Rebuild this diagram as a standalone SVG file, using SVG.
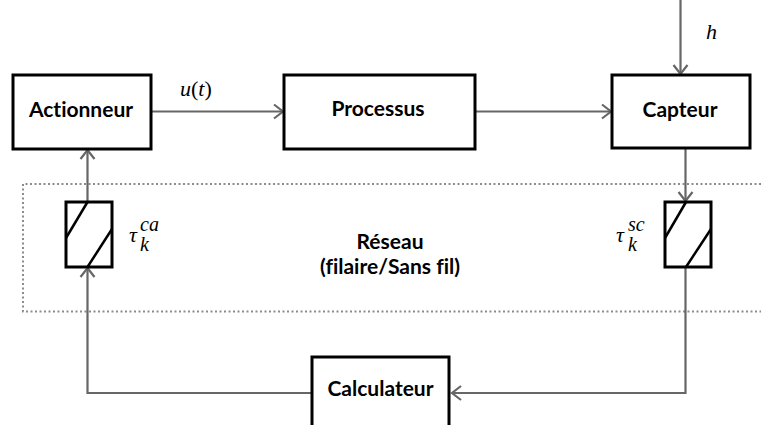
<svg xmlns="http://www.w3.org/2000/svg" width="761" height="425" viewBox="0 0 761 425">
<style>
.box{fill:#fff;stroke:#000;stroke-width:3}
.lbl{font-family:Lato,"Liberation Sans",sans-serif;font-weight:bold;font-size:21px;fill:#000;text-anchor:middle;font-variant-ligatures:none;font-feature-settings:"liga" 0}
.conn{fill:none;stroke:#666;stroke-width:2.2}
.arr{marker-end:url(#ah)}
.math{font-family:"Liberation Serif",serif;font-style:italic;fill:#000}
.net{fill:none;stroke:#8c8c8c;stroke-width:2;stroke-dasharray:2 2.5}
.diag{stroke:#000;stroke-width:2.5}
</style>
<defs>
<marker id="ah" markerUnits="userSpaceOnUse" markerWidth="20" markerHeight="20" viewBox="-12 -10 14 20" refX="0" refY="0" orient="auto">
<path d="M-9,-7 L0,0 L-9,7" fill="none" stroke="#666" stroke-width="2.2"/>
</marker>
</defs>
<path class="net" d="M761,184 H23 V311.5 H761"/>
<g id="connectors">
<path class="conn arr" d="M151,111.5 H283"/>
<path class="conn arr" d="M475,111.5 H611"/>
<path class="conn arr" d="M680.5,0 V74"/>
<path class="conn arr" d="M685.5,148 V201"/>
<path class="conn arr" d="M685.5,267 V393 H452"/>
<path class="conn arr" d="M312,393 H87.5 V268"/>
<path class="conn arr" d="M87.5,202 V150"/>
</g>
<g id="actionneur">
<rect class="box" x="13" y="75" width="138" height="74"/>
<text class="lbl" x="81" y="117">Actionneur</text>
</g>
<g id="processus">
<rect class="box" x="284" y="75" width="191" height="74"/>
<text class="lbl" x="378" y="116">Processus</text>
</g>
<g id="capteur">
<rect class="box" x="612" y="75" width="138" height="73"/>
<text class="lbl" x="680" y="117">Capteur</text>
</g>
<g id="calculateur">
<rect class="box" x="312" y="357" width="137" height="90"/>
<text class="lbl" x="380.5" y="396">Calculateur</text>
</g>
<g id="delay-ca">
<rect class="box" x="66" y="202" width="46" height="65"/>
<line class="diag" x1="87.5" y1="202" x2="66" y2="238"/>
<line class="diag" x1="112" y1="229" x2="87.5" y2="267"/>
</g>
<g id="delay-sc">
<rect class="box" x="665" y="202" width="46" height="65"/>
<line class="diag" x1="686" y1="202" x2="665" y2="238"/>
<line class="diag" x1="711" y1="229" x2="686" y2="267"/>
</g>
<g id="reseau">
<text class="lbl" x="390" y="249">Réseau</text>
<text class="lbl" x="390" y="274">(filaire/Sans fil)</text>
</g>
<g id="labels">
<text class="math" x="180" y="96" font-size="22">u<tspan font-style="normal">(</tspan>t<tspan font-style="normal">)</tspan></text>
<text class="math" x="706" y="39" font-size="22">h</text>
<text class="math" x="129" y="242" font-size="22">τ</text>
<text class="math" x="140" y="231" font-size="20">ca</text>
<text class="math" x="140" y="251" font-size="20">k</text>
<text class="math" x="616" y="242" font-size="22">τ</text>
<text class="math" x="628" y="231" font-size="20">sc</text>
<text class="math" x="628" y="251" font-size="20">k</text>
</g>
</svg>
